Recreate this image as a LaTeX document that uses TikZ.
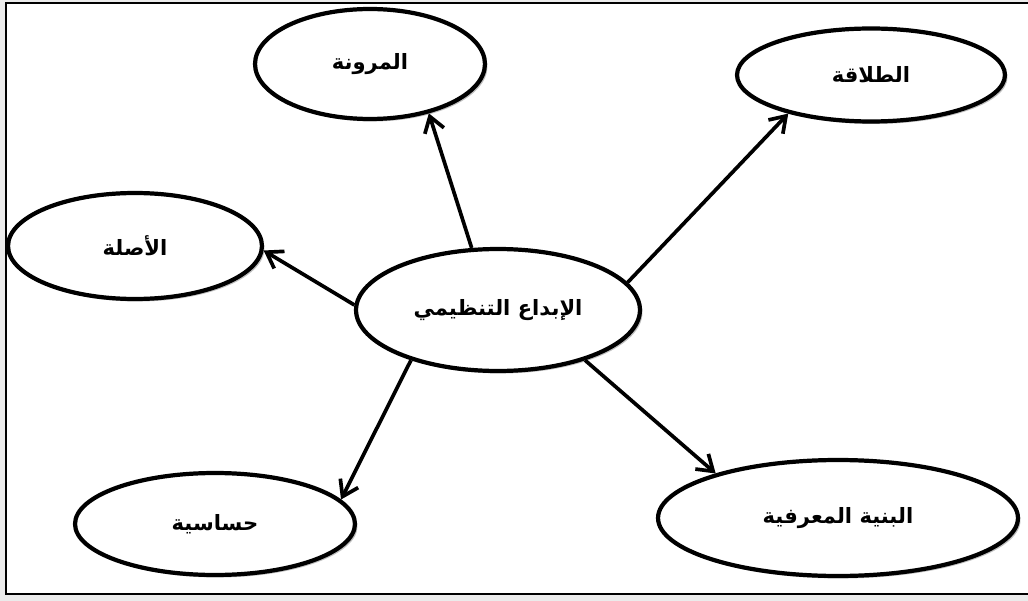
\documentclass[tikz,border=0pt]{standalone}
\usepackage{fontspec}
\newfontfamily\arabicfont[Script=Arabic]{DejaVu Sans}
\TeXXeTstate=1
\usepackage{tikz}
\usetikzlibrary{shapes.geometric}
\usetikzlibrary{arrows.meta}
\usetikzlibrary{shadows}
\tikzset{idea/.style={ellipse, draw=black, line width=2.4pt, fill=white, inner sep=0pt,
  drop shadow={shadow xshift=.05cm, shadow yshift=-.05cm, fill=black, opacity=.25},
  font=\arabicfont\bfseries\fontsize{12}{14}\selectfont}}
\tikzset{link/.style={black, line width=2.1pt, -{Straight Barb[length=3mm,width=4mm]}}}
\newcommand{\ar}[1]{\beginR #1\endR}

\begin{document}
\begin{tikzpicture}[x=0.02cm, y=-0.02cm]
\useasboundingbox (0,0) rectangle (1028,601);
\fill[black!8] (0,0) rectangle (1028,601);
\fill[white] (6,3) rectangle (1028,594);
\draw[black, line width=1.2pt] (1028,3) -- (6,3) -- (6,594) -- (1028,594);

\node[idea, minimum width=4.6cm, minimum height=2.2cm] (mrn) at (370,64) {\ar{المرونة}};
\node[idea, minimum width=5.36cm, minimum height=1.86cm] (tlq) at (871,75) {\ar{الطلاقة}};
\node[idea, minimum width=5.08cm, minimum height=2.12cm] (asl) at (135,246) {\ar{الأصلة}};
\node[idea, minimum width=5.68cm, minimum height=2.44cm] (ibd) at (498,310) {\ar{الإبداع التنظيمي}};
\node[idea, minimum width=5.6cm, minimum height=2.04cm] (hsa) at (215,524) {\ar{حساسية}};
\node[idea, minimum width=7.2cm, minimum height=2.32cm] (bny) at (838,518) {\ar{البنية المعرفية}};

\draw[link] (ibd.113) -- (mrn.-40);
\draw[link] (ibd.178) -- (asl.-2);
\draw[link] (ibd.12) -- (tlq.-155);
\draw[link] (ibd.-150) -- (hsa.11);
\draw[link] (ibd.-30) -- (bny.160);
\end{tikzpicture}
\end{document}
